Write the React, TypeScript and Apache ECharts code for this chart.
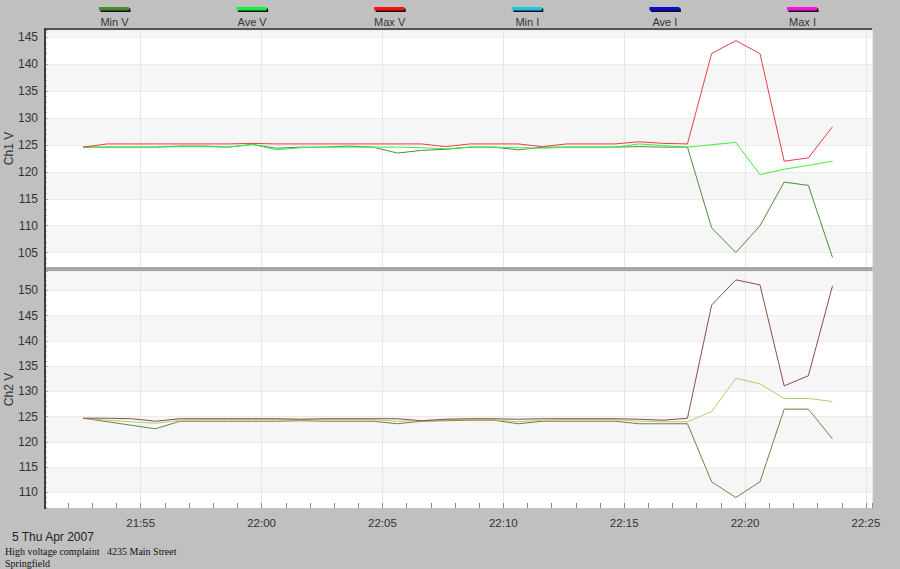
import React, { useEffect, useRef } from 'react';
import * as echarts from 'echarts';

// ---- data ----
const times = [
  '21:52:37', '21:53:37', '21:54:37', '21:55:37', '21:56:37', '21:57:37', '21:58:37', '21:59:37',
  '22:00:37', '22:01:37', '22:02:37', '22:03:37', '22:04:37', '22:05:37', '22:06:37', '22:07:37',
  '22:08:37', '22:09:37', '22:10:37', '22:11:37', '22:12:37', '22:13:37', '22:14:37', '22:15:37',
  '22:16:37', '22:17:37', '22:18:37', '22:19:37', '22:20:37', '22:21:37', '22:22:37', '22:23:37',
];

const ch1Min = [
  124.6, 124.6, 124.6, 124.6, 124.8, 124.8, 124.6, 125.1, 124.4, 124.6, 124.6, 124.8, 124.6, 123.5, 124.0, 124.2,
  124.6, 124.6, 124.1, 124.6, 124.6, 124.6, 124.6, 124.7, 124.6, 124.6, 109.6, 105.0, 110.0, 118.1, 117.5, 104.1,
];
const ch1Ave = [
  124.6, 124.6, 124.6, 124.6, 124.7, 124.7, 124.6, 125.1, 124.1, 124.5, 124.6, 124.6, 124.6, 124.6, 124.5, 124.3,
  124.6, 124.6, 124.5, 124.4, 124.6, 124.6, 124.6, 125.2, 124.9, 124.6, 125.05, 125.5, 119.5, 120.5, 121.2, 122.0,
];
const ch1Max = [
  124.6, 125.2, 125.2, 125.2, 125.2, 125.2, 125.2, 125.3, 125.2, 125.2, 125.2, 125.2, 125.2, 125.2, 125.2, 124.7,
  125.2, 125.2, 125.2, 124.7, 125.2, 125.2, 125.2, 125.6, 125.3, 125.2, 142.0, 144.4, 142.0, 122.0, 122.6, 128.4,
];

const ch2Min = [
  124.7, 124.0, 123.3, 122.6, 124.1, 124.1, 124.1, 124.1, 124.1, 124.2, 124.1, 124.1, 124.1, 123.6, 124.1, 124.2,
  124.3, 124.3, 123.6, 124.1, 124.1, 124.1, 124.1, 123.6, 123.6, 123.6, 112.1, 109.0, 112.1, 126.5, 126.5, 120.6,
];
const ch2Ave = [
  124.7, 124.3, 124.0, 123.7, 124.3, 124.4, 124.4, 124.4, 124.4, 124.4, 124.4, 124.4, 124.4, 124.1, 124.2, 124.4,
  124.4, 124.4, 124.0, 124.3, 124.4, 124.4, 124.4, 124.1, 124.0, 124.0, 126.0, 132.6, 131.5, 128.6, 128.6, 128.0,
];
const ch2Max = [
  124.7, 124.7, 124.6, 124.1, 124.6, 124.6, 124.6, 124.6, 124.6, 124.5, 124.6, 124.6, 124.6, 124.6, 124.2, 124.5,
  124.6, 124.6, 124.5, 124.6, 124.6, 124.6, 124.6, 124.5, 124.3, 124.7, 147.1, 152.1, 151.1, 131.1, 133.1, 150.9,
];

const legendNames = ['Min V', 'Ave V', 'Max V', 'Min I', 'Ave I', 'Max I'];
const legendColors = ['#4a8a2c', '#10f040', '#ff1010', '#22c4e6', '#0c0cd0', '#ff10e0'];

const axisNames = ['Ch1 V', 'Ch2 V'];
const xStart = '21:51:00';
const xEnd = '22:25:15';
const ch1Range = [102.32, 146.38];
const ch2Range = [106.92, 153.85];

const dateText = '5 Thu Apr 2007';
const noteText = 'High voltage complaint';
const addressText = '4235 Main Street';
const cityText = 'Springfield';

// ---- helpers ----
const toMin = (t: string) => {
  const [h, m, s] = t.split(':').map(Number);
  return h * 60 + m + s / 60;
};
const fmtMin = (v: number) => {
  const h = Math.floor(v / 60 + 1e-9);
  const m = Math.round(v - h * 60);
  return `${h}:${String(m).padStart(2, '0')}`;
};

const SANS = 'Liberation Sans, Arial, sans-serif';
const SERIF = 'Liberation Serif, Times New Roman, serif';

export default function App() {
  const ref = useRef<HTMLDivElement>(null);

  useEffect(() => {
    document.body.style.margin = '0';
    if (!ref.current) return;
    const chart = echarts.init(ref.current, undefined, { renderer: 'svg' });
    const tMin = times.map(toMin);
    const xMin = toMin(xStart);
    const xMax = toMin(xEnd);

    const mainX = (grid: number, showLabels: boolean) => ({
      gridIndex: grid,
      type: 'value',
      min: xMin,
      max: xMax,
      interval: 1,
      axisLine: { show: showLabels, lineStyle: { color: '#c4c4c4', width: 1 } },
      axisTick: { show: showLabels, inside: true, length: 5, lineStyle: { color: '#8c8c8c' } },
      axisLabel: {
        show: showLabels,
        margin: 9,
        fontFamily: SANS,
        fontSize: 11.5,
        color: '#333',
        formatter: (v: number) => (Math.abs(v - Math.round(v / 5) * 5) < 1e-6 ? fmtMin(v) : ''),
      },
      splitLine: { show: false },
    });
    const gridX = (grid: number) => ({
      gridIndex: grid,
      type: 'value',
      min: xMin,
      max: xMax,
      splitNumber: 7,
      axisLine: { show: false },
      axisTick: { show: false },
      axisLabel: { show: false },
      splitLine: { show: true, lineStyle: { color: '#e6e6e6', width: 1 } },
    });
    const yAx = (grid: number, range: number[], name: string) => ({
      gridIndex: grid,
      type: 'value',
      min: range[0],
      max: range[1],
      splitNumber: 9,
      name,
      nameLocation: 'middle',
      nameGap: 29,
      nameMoveOverlap: false,
      nameTextStyle: { fontFamily: SANS, fontSize: 12, color: '#333' },
      axisLine: { show: false },
      axisTick: { show: true, inside: true, length: 4, lineStyle: { color: '#a8a8a8' } },
      minorTick: { show: true, splitNumber: 5, length: 3, lineStyle: { color: '#b4b4b4' } },
      axisLabel: {
        showMinLabel: false,
        showMaxLabel: false,
        margin: 6,
        fontFamily: SANS,
        fontSize: 12,
        color: '#333',
      },
      splitLine: { show: true, lineStyle: { color: '#ececec' } },
      splitArea: { show: true, areaStyle: { color: ['#ffffff', '#f6f6f6'] } },
    });

    const mk = (name: string, vals: number[], color: string, grid: number) => ({
      name,
      type: 'line',
      xAxisIndex: grid * 2,
      yAxisIndex: grid,
      data: tMin.map((t, i) => [t, vals[i]]),
      showSymbol: false,
      symbol: 'none',
      lineStyle: { width: 1, color },
      itemStyle: { color },
      silent: true,
      z: 3,
    });

    const legendGraphics: any[] = [];
    legendNames.forEach((n, i) => {
      const cx = 114.5 + i * 137.6;
      legendGraphics.push({
        type: 'rect', z: 100,
        shape: { x: cx - 14, y: 8.5, width: 30, height: 3.5 },
        style: { fill: '#111' },
      });
      legendGraphics.push({
        type: 'rect', z: 101,
        shape: { x: cx - 15.5, y: 7, width: 30, height: 3.5 },
        style: { fill: legendColors[i] },
      });
      legendGraphics.push({
        type: 'text', z: 101,
        style: { text: n, x: cx, y: 21.5, align: 'center', verticalAlign: 'middle', font: `11px ${SANS}`, fill: '#333' },
      });
    });

    chart.setOption({
      animation: false,
      backgroundColor: '#c0c0c0',
      grid: [
        { left: 44, top: 30, width: 828, height: 237, show: true, backgroundColor: '#ffffff', borderWidth: 0, containLabel: false, outerBoundsMode: 'none' },
        { left: 44, top: 271, width: 828, height: 237, show: true, backgroundColor: '#ffffff', borderWidth: 0, containLabel: false, outerBoundsMode: 'none' },
      ],
      xAxis: [mainX(0, false), gridX(0), mainX(1, true), gridX(1)],
      yAxis: [yAx(0, ch1Range, axisNames[0]), yAx(1, ch2Range, axisNames[1])],
      series: [
        mk(legendNames[0], ch1Min, '#4f8c3f', 0),
        mk(legendNames[1], ch1Ave, '#3cf03c', 0),
        mk(legendNames[2], ch1Max, '#f03a48', 0),
        mk(legendNames[0], ch2Min, '#7a7a4c', 1),
        mk(legendNames[1], ch2Ave, '#a6d66a', 1),
        mk(legendNames[2], ch2Max, '#8c5044', 1),
      ],
      graphic: [
        ...legendGraphics,
        { type: 'rect', z: 100, shape: { x: 44, y: 28, width: 828, height: 2 }, style: { fill: '#555555' } },
        { type: 'rect', z: 100, shape: { x: 44, y: 28, width: 2, height: 481 }, style: { fill: '#3c3c3c' } },
        { type: 'rect', z: 100, shape: { x: 46, y: 267, width: 826, height: 4 }, style: { fill: '#a8a8a8' } },
        { type: 'text', z: 100, style: { text: dateText, x: 12, y: 537, verticalAlign: 'middle', font: `12px ${SANS}`, fill: '#222' } },
        { type: 'text', z: 100, style: { text: noteText, x: 5, y: 551, verticalAlign: 'middle', font: `10px ${SERIF}`, fill: '#111' } },
        { type: 'text', z: 100, style: { text: addressText, x: 107, y: 551, verticalAlign: 'middle', font: `10px ${SERIF}`, fill: '#111' } },
        { type: 'text', z: 100, style: { text: cityText, x: 5, y: 563, verticalAlign: 'middle', font: `10px ${SERIF}`, fill: '#111' } },
      ],
    });
    return () => chart.dispose();
  }, []);

  return <div ref={ref} style={{ width: 900, height: 569, background: '#c0c0c0' }} />;
}
